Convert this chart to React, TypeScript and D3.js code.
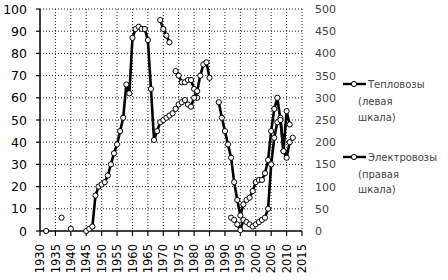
import React from "react";
import * as d3 from "d3";

const yearTicks = [1930, 1935, 1940, 1945, 1950, 1955, 1960, 1965, 1970, 1975, 1980, 1985, 1990, 1995, 2000, 2005, 2010, 2015];
const leftTicks = [0, 10, 20, 30, 40, 50, 60, 70, 80, 90, 100];
const rightTicks = [0, 50, 100, 150, 200, 250, 300, 350, 400, 450, 500];

// Тепловозы (левая шкала)
const teploYears = [
  1945, 1946, 1947, 1948, 1949, 1950, 1951, 1952, 1953, 1954, 1955, 1956, 1957, 1958, 1959,
  1960, 1961, 1962, 1963, 1964, 1965, 1966, 1967, 1968, 1969, 1970, 1971, 1972, 1973, 1974,
  1975, 1976, 1977, 1978, 1979, 1980, 1981, 1982, 1983, 1984, 1985, 1986,
  1988, 1989, 1990, 1991, 1992, 1993, 1994, 1995, 1996, 1997, 1998, 1999, 2000, 2001, 2002,
  2003, 2004, 2005, 2006, 2007, 2008, 2009, 2010, 2011, 2012,
];
const teploValues = [
  0, 1, 2, 16, 20, 21, 22, 25, 30, 35, 39, 45, 51, 66, 62,
  87, 91, 92, 91, 91, 86, 64, 41, 45, 49, 50, 51, 52, 53, 55,
  57, 58, 59, 57, 56, 60, 63, 70, 75, 76, 69, null,
  58, 51, 45, 39, 33, 22, 14, 7, 12, 14, 15, 18, 22, 23, 23,
  26, 32, 45, 55, 60, 50, 36, 33, 40, 42,
];

// Электровозы (правая шкала)
const elektroYears = [
  1932, 1933, 1937, 1938, 1940, 1941,
  1969, 1970, 1971, 1972, 1973, 1974, 1975, 1976, 1977, 1978, 1979, 1980, 1981, 1982,
  1992, 1993, 1994, 1995, 1996, 1997, 1998, 1999, 2000, 2001, 2002, 2003, 2004, 2005,
  2006, 2007, 2008, 2009, 2010, 2011,
];
const elektroValues = [
  0, null, 30, null, 5, null,
  475, 455, 440, 425, null, 360, 350, 335, 335, 340, 340, 320, 300, null,
  30, 25, 15, 2, 25, 20, 15, 10, 15, 20, 25, 30, 50, 150,
  210, 245, 255, 180, 270, 240,
];

const X0 = 40, X1 = 302, Y0 = 231, Y1 = 9;

export default function App() {
  const x = d3.scaleLinear().domain([1930, 2015]).range([X0, X1]);
  const yL = d3.scaleLinear().domain([0, 100]).range([Y0, Y1]);
  const yR = d3.scaleLinear().domain([0, 500]).range([Y0, Y1]);

  type P = { yr: number; v: number | null };
  const tData: P[] = teploYears.map((yr, i) => ({ yr, v: teploValues[i] }));
  const eData: P[] = elektroYears.map((yr, i) => ({ yr, v: elektroValues[i] }));

  const lineL = d3.line<P>().defined(d => d.v != null).x(d => x(d.yr)).y(d => yL(d.v as number));
  const lineR = d3.line<P>().defined(d => d.v != null).x(d => x(d.yr)).y(d => yR(d.v as number));

  const font = "'DejaVu Sans', Verdana, sans-serif";

  return (
    <svg width={448} height={280} style={{ position: "absolute", left: 0, top: 0, background: "#fff" }} fontFamily={font}>
      {/* grid */}
      {leftTicks.filter(t => t > 0).map(t => (
        <line key={"h" + t} x1={X0} x2={X1} y1={yL(t)} y2={yL(t)} stroke="#222" strokeWidth={1} strokeDasharray="1 2" />
      ))}
      {yearTicks.filter(t => t > 1930).map(t => (
        <line key={"v" + t} x1={x(t)} x2={x(t)} y1={Y1} y2={Y0} stroke="#222" strokeWidth={1} strokeDasharray="1 2" />
      ))}
      {/* axes */}
      <line x1={X0} x2={X0} y1={Y1} y2={Y0} stroke="#000" strokeWidth={1.5} />
      <line x1={X0} x2={X1} y1={Y0} y2={Y0} stroke="#000" strokeWidth={1.5} />
      {leftTicks.map(t => (
        <line key={"lt" + t} x1={X0 - 4} x2={X0} y1={yL(t)} y2={yL(t)} stroke="#000" strokeWidth={1.2} />
      ))}
      {yearTicks.map(t => (
        <line key={"bt" + t} x1={x(t)} x2={x(t)} y1={Y0} y2={Y0 + 5} stroke="#000" strokeWidth={1.2} />
      ))}
      {leftTicks.map(t => (
        <text key={"ll" + t} x={27} y={yL(t)} dy="0.36em" textAnchor="end" fontSize={12.5} fill="#000">{t}</text>
      ))}
      {rightTicks.map(t => (
        <text key={"rl" + t} x={315} y={yR(t)} dy="0.36em" textAnchor="start" fontSize={11} fill="#444">{t}</text>
      ))}
      {yearTicks.map(t => (
        <text key={"xl" + t} transform={`translate(${x(t)},${Y0 + 13}) rotate(-90)`} dy="0.36em" textAnchor="end" fontSize={11.5} fill="#000">{t}</text>
      ))}
      {/* series */}
      <path d={lineR(eData) || ""} fill="none" stroke="#000" strokeWidth={2.6} strokeLinejoin="round" />
      <path d={lineL(tData) || ""} fill="none" stroke="#000" strokeWidth={2.6} strokeLinejoin="round" />
      {eData.filter(d => d.v != null).map((d, i) => (
        <circle key={"ec" + i} cx={x(d.yr)} cy={yR(d.v as number)} r={2.6} fill="#fff" stroke="#000" strokeWidth={1} />
      ))}
      {tData.filter(d => d.v != null).map((d, i) => (
        <circle key={"tc" + i} cx={x(d.yr)} cy={yL(d.v as number)} r={2.6} fill="#fff" stroke="#000" strokeWidth={1} />
      ))}
      {/* legend */}
      <g fontSize={10} fill="#444">
        <line x1={343} x2={366} y1={84} y2={84} stroke="#000" strokeWidth={2.4} />
        <circle cx={354} cy={84} r={2.6} fill="#fff" stroke="#000" strokeWidth={1} />
        <text x={368} y={84} dy="0.35em">Тепловозы</text>
        <text x={358} y={101} dy="0.35em">(левая</text>
        <text x={358} y={117} dy="0.35em">шкала)</text>
        <line x1={343} x2={366} y1={157} y2={157} stroke="#000" strokeWidth={2.4} />
        <circle cx={354} cy={157} r={2.6} fill="#fff" stroke="#000" strokeWidth={1} />
        <text x={368} y={157} dy="0.35em">Электровозы</text>
        <text x={358} y={174} dy="0.35em">(правая</text>
        <text x={358} y={189} dy="0.35em">шкала)</text>
      </g>
    </svg>
  );
}
